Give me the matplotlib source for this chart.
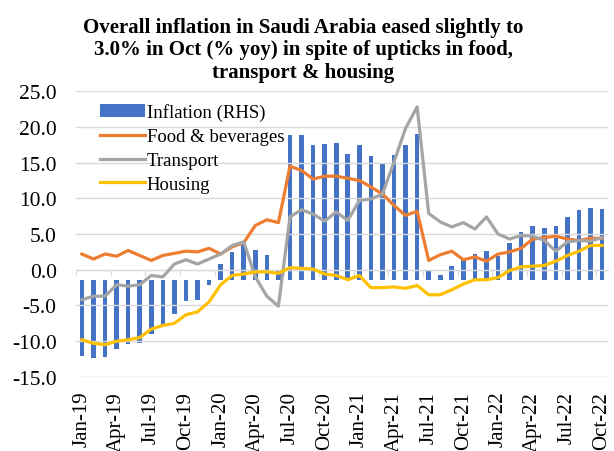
import numpy as np
import matplotlib.pyplot as plt

plt.rcParams['font.family'] = ['Liberation Serif', 'DejaVu Serif']

months = ['Jan-19', 'Feb-19', 'Mar-19', 'Apr-19', 'May-19', 'Jun-19', 'Jul-19', 'Aug-19',
          'Sep-19', 'Oct-19', 'Nov-19', 'Dec-19', 'Jan-20', 'Feb-20', 'Mar-20', 'Apr-20',
          'May-20', 'Jun-20', 'Jul-20', 'Aug-20', 'Sep-20', 'Oct-20', 'Nov-20', 'Dec-20',
          'Jan-21', 'Feb-21', 'Mar-21', 'Apr-21', 'May-21', 'Jun-21', 'Jul-21', 'Aug-21',
          'Sep-21', 'Oct-21', 'Nov-21', 'Dec-21', 'Jan-22', 'Feb-22', 'Mar-22', 'Apr-22',
          'May-22', 'Jun-22', 'Jul-22', 'Aug-22', 'Sep-22', 'Oct-22']

# headline inflation, right-hand scale (% yoy)
inflation = [-3.18, -3.27, -3.21, -2.88, -2.67, -2.64, -2.25, -1.89, -1.41, -0.87, -0.84, -0.18,
             0.69, 1.20, 1.47, 1.26, 1.05, 0.42, 6.09, 6.12, 5.70, 5.73, 5.79, 5.31,
             5.70, 5.22, 4.95, 5.25, 5.67, 6.15, 0.38, 0.24, 0.59, 0.84, 1.10, 1.22,
             1.01, 1.58, 2.03, 2.30, 2.20, 2.30, 2.65, 2.94, 3.05, 3.00]

food = [2.2, 1.5, 2.2, 1.9, 2.7, 2.0, 1.3, 2.0, 2.3, 2.6, 2.5, 3.0,
        2.2, 3.2, 3.8, 6.2, 7.0, 6.6, 14.5, 13.9, 12.7, 13.1, 13.1, 12.8,
        12.5, 11.6, 10.6, 9.0, 7.6, 8.2, 1.3, 2.1, 2.6, 1.4, 1.8, 1.2,
        2.2, 2.5, 3.0, 4.3, 4.5, 4.7, 4.3, 4.1, 4.4, 4.4]

transport = [-4.2, -3.7, -3.7, -2.1, -2.3, -2.1, -0.8, -1.0, 0.8, 1.4, 0.8, 1.5,
             2.2, 3.4, 3.9, -1.0, -3.7, -5.1, 7.4, 8.4, 7.8, 6.8, 8.1, 6.9,
             9.7, 9.9, 10.6, 15.1, 19.8, 22.8, 7.9, 6.7, 6.0, 6.6, 5.7, 7.4,
             5.0, 4.3, 4.8, 4.7, 4.1, 2.6, 3.9, 4.1, 4.0, 4.5]

housing = [-9.8, -10.3, -10.5, -10.0, -9.8, -9.5, -8.3, -7.8, -7.5, -6.3, -5.9, -4.5,
           -2.1, -0.8, -0.6, -0.3, -0.3, -0.5, 0.3, 0.2, 0.1, -0.6, -0.8, -1.4,
           -0.8, -2.5, -2.5, -2.4, -2.6, -2.2, -3.5, -3.5, -2.8, -2.0, -1.4, -1.4,
           -1.1, -0.1, 0.4, 0.5, 0.6, 1.2, 2.0, 2.6, 3.4, 3.4]

x = np.arange(len(months))

fig = plt.figure(figsize=(6.14, 4.52), dpi=100)
ax = fig.add_axes([0.124, 0.164, 0.866, 0.632])
ax2 = ax.twinx()
ax.set_zorder(ax2.get_zorder() + 1)
ax.patch.set_visible(False)

bars = ax2.bar(x, inflation, width=0.4, color='#4472C4', label='Inflation (RHS)')
ax2.set_ylim(-4.05, 7.95)
ax2.axis('off')

l1, = ax.plot(x, food, color='#ED7D31', lw=2.3, label='Food & beverages')
l2, = ax.plot(x, transport, color='#A5A5A5', lw=2.3, label='Transport')
l3, = ax.plot(x, housing, color='#FFC000', lw=2.3, label='Housing')

ax.set_xlim(-0.5, len(months) - 0.5)
ax.set_ylim(-15, 25)
ax.set_yticks(np.arange(-15, 26, 5))
ax.set_yticklabels([f'{v:.1f}' for v in np.arange(-15, 26, 5)], fontsize=15.5)
ax.yaxis.grid(True, color='#d9d9d9', lw=1)
ax.set_axisbelow(True)
ax.tick_params(axis='y', length=0, pad=14)

ax.set_xticks(x[::3])
ax.set_xticklabels(months[::3], rotation=90, fontsize=15)
ax.tick_params(axis='x', length=0, pad=10)
for s in ax.spines.values():
    s.set_visible(False)
for s in ax2.spines.values():
    s.set_visible(False)

# category axis crossing at zero
zero = ax.secondary_xaxis(15 / 40)
zero.set_xticks(np.arange(-0.5, len(months), 3))
zero.set_xticklabels([])
zero.tick_params(length=4, color='#d9d9d9', direction='out')
zero.spines['bottom'].set_color('#d9d9d9')

ax.legend([bars, l1, l2, l3], ['Inflation (RHS)', 'Food & beverages', 'Transport', 'Housing'],
          loc='upper left', bbox_to_anchor=(0.022, 1.0), frameon=False, fontsize=13.5,
          handlelength=2.4, handletextpad=0.1, labelspacing=0.36, borderaxespad=0.25)

fig.text(0.494, 0.96, 'Overall inflation in Saudi Arabia eased slightly to\n'
         '3.0% in Oct (% yoy) in spite of upticks in food,\ntransport & housing',
         ha='center', va='top', fontsize=15, fontweight='bold', linespacing=1.15)

fig.savefig('out.png', dpi=100)
